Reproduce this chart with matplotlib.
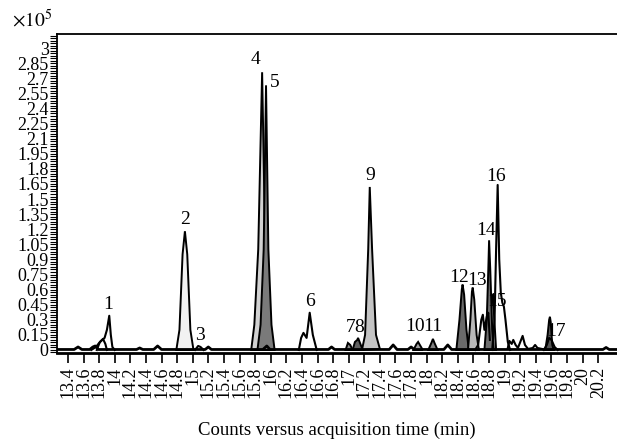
import matplotlib
matplotlib.use('Agg')
import matplotlib.pyplot as plt
from matplotlib.ticker import FixedLocator, MultipleLocator

plt.rcParams['font.family'] = ['Liberation Serif', 'DejaVu Serif']
plt.rcParams['mathtext.fontset'] = 'stix'

# ---- data (time in min, counts in 1e5) ----
x_ticks = [13.4, 13.6, 13.8, 14, 14.2, 14.4, 14.6, 14.8, 15, 15.2, 15.4, 15.6, 15.8,
           16, 16.2, 16.4, 16.6, 16.8, 17, 17.2, 17.4, 17.6, 17.8, 18, 18.2, 18.4,
           18.6, 18.8, 19, 19.2, 19.4, 19.6, 19.8, 20, 20.2]
y_ticks = [0, 0.15, 0.3, 0.45, 0.6, 0.75, 0.9, 1.05, 1.2, 1.35, 1.5, 1.65, 1.8,
           1.95, 2.1, 2.25, 2.4, 2.55, 2.7, 2.85, 3]

# baseline trace
base_t = [13.26, 13.48, 13.53, 13.58, 13.68, 13.72, 13.75, 13.79, 14.02, 14.28, 14.32,
          14.36, 14.50, 14.55, 14.60, 14.78, 15.16, 15.20, 15.24, 15.90, 15.95, 15.99,
          16.74, 16.78, 16.82, 17.52, 17.57, 17.62, 17.76, 17.80, 17.84, 18.22, 18.27,
          18.32, 19.70, 20.26, 20.30, 20.34, 20.44]
base_y = [0.005, 0.005, 0.03, 0.005, 0.005, 0.03, 0.04, 0.005, 0.005, 0.005, 0.02,
          0.005, 0.005, 0.04, 0.005, 0.005, 0.005, 0.03, 0.005, 0.005, 0.04, 0.005,
          0.005, 0.03, 0.005, 0.005, 0.05, 0.005, 0.005, 0.03, 0.005, 0.005, 0.05,
          0.005, 0.005, 0.005, 0.025, 0.005, 0.005]

# filled peaks
p2_t = [14.79, 14.83, 14.87, 14.90, 14.93, 14.97, 15.01]
p2_y = [0, 0.2, 0.95, 1.18, 0.95, 0.2, 0]
p4_t = [15.75, 15.79, 15.84, 15.89, 15.93, 15.97, 16.00]
p4_y = [0, 0.25, 1.0, 2.76, 1.0, 0.25, 0]
p5_t = [15.83, 15.87, 15.91, 15.94, 15.97, 16.01, 16.05]
p5_y = [0, 0.25, 1.0, 2.63, 1.0, 0.25, 0]
p7_t = [16.96, 16.99, 17.02, 17.05]
p7_y = [0, 0.07, 0.05, 0]
p8_t = [17.05, 17.08, 17.11, 17.12, 17.14, 17.18]
p8_y = [0, 0.08, 0.10, 0.12, 0.08, 0]
p9_t = [17.17, 17.21, 17.25, 17.27, 17.30, 17.35, 17.40]
p9_y = [0, 0.15, 1.0, 1.62, 1.0, 0.15, 0.01]
p10_t = [17.83, 17.87, 17.89, 17.92, 17.95]
p10_y = [0, 0.06, 0.08, 0.04, 0]
p11_t = [18.02, 18.06, 18.08, 18.10, 18.14]
p11_y = [0, 0.07, 0.11, 0.07, 0]
p12_t = [18.38, 18.42, 18.45, 18.46, 18.48, 18.51, 18.54]
p12_y = [0, 0.3, 0.6, 0.65, 0.55, 0.2, 0]
p13_t = [18.53, 18.56, 18.58, 18.59, 18.61, 18.64, 18.67]
p13_y = [0, 0.3, 0.58, 0.62, 0.5, 0.15, 0]
p14b_t = [18.77, 18.81, 18.84, 18.86, 18.89]
p14b_y = [0, 0.4, 0.55, 0.4, 0]
p14_t = [18.74, 18.77, 18.79, 18.80, 18.815, 18.84, 18.86]
p14_y = [0, 0.3, 0.8, 1.09, 0.8, 0.2, 0]
p17_t = [19.52, 19.55, 19.57, 19.58, 19.59, 19.61, 19.63]
p17_y = [0, 0.15, 0.3, 0.33, 0.28, 0.05, 0]

# outline traces
p1_t = [13.70, 13.76, 13.80, 13.84, 13.87, 13.90, 13.93, 13.95, 13.97, 14.00]
p1_y = [0, 0.03, 0.07, 0.10, 0.12, 0.20, 0.34, 0.15, 0.03, 0]
p1b_t = [13.77, 13.81, 13.85, 13.88, 13.90]
p1b_y = [0, 0.08, 0.11, 0.06, 0]
p3_t = [15.03, 15.07, 15.10, 15.14]
p3_y = [0, 0.04, 0.03, 0]
p6_t = [16.36, 16.39, 16.42, 16.46, 16.50, 16.54, 16.59]
p6_y = [0, 0.12, 0.17, 0.12, 0.37, 0.15, 0]
cl_t = [18.62, 18.66, 18.70, 18.72, 18.74, 18.77, 18.79, 18.81]
cl_y = [0, 0.05, 0.30, 0.35, 0.20, 0.33, 0.37, 0.10]
p16_t = [18.84, 18.87, 18.89, 18.91, 18.93, 18.95, 18.97, 18.99, 19.01, 19.04, 19.07]
p16_y = [0, 0.3, 1.0, 1.64, 0.9, 0.57, 0.47, 0.43, 0.3, 0.08, 0]
tail_t = [19.04, 19.06, 19.09, 19.11, 19.14, 19.17, 19.20, 19.23, 19.26, 19.30,
          19.36, 19.39, 19.42, 19.48]
tail_y = [0.02, 0.09, 0.06, 0.10, 0.05, 0.02, 0.08, 0.14, 0.05, 0.01,
          0.02, 0.05, 0.02, 0.01]
p17b_t = [19.50, 19.54, 19.57, 19.60, 19.64, 19.68]
p17b_y = [0, 0.05, 0.12, 0.10, 0.03, 0]

# peak labels
label_txt = ['1', '2', '3', '4', '5', '6', '7', '8', '9', '10', '11', '12', '13',
             '14', '15', '16', '17']
label_t = [13.91, 14.90, 15.09, 15.80, 16.05, 16.50, 17.02, 17.14, 17.27, 17.85,
           18.08, 18.41, 18.64, 18.76, 18.90, 18.89, 19.66]
label_v = [0.45, 1.30, 0.14, 2.89, 2.66, 0.48, 0.22, 0.22, 1.73, 0.23,
           0.23, 0.72, 0.69, 1.19, 0.48, 1.72, 0.18]

fig = plt.figure(figsize=(6.17, 4.41), dpi=100)
ax = fig.add_axes([57 / 617, 1 - 353 / 441, 1 - 57 / 617, (353 - 34) / 441])

filled = [(p2_t, p2_y, '#f2f2f2'), (p4_t, p4_y, '#d2d2d2'), (p5_t, p5_y, '#7a7a7a'),
          (p7_t, p7_y, '#8a8a8a'), (p8_t, p8_y, '#606060'), (p9_t, p9_y, '#c4c4c4'),
          (p10_t, p10_y, '#a0a0a0'), (p11_t, p11_y, '#808080'),
          (p12_t, p12_y, '#6a6a6a'), (p13_t, p13_y, '#b8b8b8'),
          (p14b_t, p14b_y, '#aaaaaa'), (p14_t, p14_y, '#6e6e6e'),
          (p17_t, p17_y, '#555555')]
for t, y, c in filled:
    ax.fill(t, y, facecolor=c, edgecolor='black', linewidth=1.4, zorder=2)

outlines = [(p1_t, p1_y), (p1b_t, p1b_y), (p3_t, p3_y), (p6_t, p6_y),
            (cl_t, cl_y), (p16_t, p16_y), (tail_t, tail_y), (p17b_t, p17b_y)]
for t, y in outlines:
    ax.plot(t, y, color='black', linewidth=1.5, zorder=3)

ax.plot(base_t, base_y, color='black', linewidth=2, zorder=4)

for s, t, v in zip(label_txt, label_t, label_v):
    ax.text(t, v, s, ha='center', va='center', fontsize=14, zorder=5)

ax.set_xlim(13.26, 20.44)
ax.set_ylim(-0.03, 3.14)
ax.xaxis.set_major_locator(FixedLocator(x_ticks))
ax.set_xticklabels(['%g' % v for v in x_ticks], rotation=90, fontsize=13)
ax.yaxis.set_major_locator(FixedLocator(y_ticks))
ax.yaxis.set_minor_locator(MultipleLocator(0.025))
ax.set_yticklabels(['%g' % v for v in y_ticks], fontsize=13)
ax.tick_params(axis='x', direction='out', length=7, width=1.2, pad=3)
ax.tick_params(axis='y', which='both', direction='out', length=5, width=0.8, pad=1)
ax.spines['right'].set_visible(False)
ax.spines['bottom'].set_linewidth(2)
ax.spines['left'].set_linewidth(1.3)
ax.spines['top'].set_linewidth(1.3)

ax.set_xlabel('Counts versus acquisition time (min)', fontsize=13.5, labelpad=17)
fig.text(12 / 617, 1 - 20 / 441, r'$\times10^5$', fontsize=14, va='center', ha='left')

fig.savefig('out.png', dpi=100)
